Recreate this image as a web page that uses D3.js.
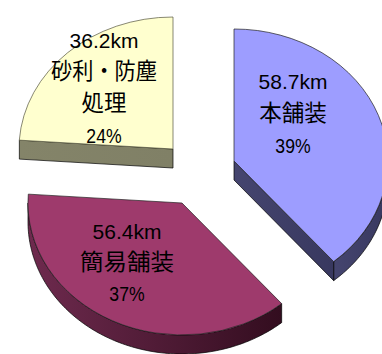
<!DOCTYPE html>
<html>
<head>
<meta charset="utf-8">
<script src="https://cdn.jsdelivr.net/npm/d3@7"></script>
<style>
  html, body { margin: 0; padding: 0; background: #fff; overflow: hidden; }
  text { fill: #000; text-anchor: middle; }
  .num, .pct { font-family: "Liberation Sans", sans-serif; font-size: 21px; }
  .cjk { font-family: "Noto Sans CJK JP", sans-serif; font-size: 22.5px; }
</style>
</head>
<body>
<svg id="chart" width="382" height="354"></svg>
<script>
// Road surface lengths by surface type
const lengthsKm = [58.7, 56.4, 36.2];
const labelLines = [
  ["58.7km", "本舗装", "39%"],
  ["56.4km", "簡易舗装", "37%"],
  ["36.2km", "砂利・防塵", "処理", "24%"]
];
const topColors = ["#9d9dff", "#9e3a6c", "#ffffcf"];

// Projection of the tilted pie and the offset of each pulled-out slice
const rx = 154, ry = 132, depth = 19;
const centers = [[234, 161], [182, 203], [173, 149]];

// Label placement: centre x and the baseline of every line
const labelX = [293, 127, 104];
const labelBaselines = [[89, 121, 153], [239, 270, 301], [48, 79, 110.5, 143]];
// Lines set to a fixed run width, and the horizontal squeeze of the percent figures
const fittedWidth = { "砂利・防塵": 106, "簡易舗装": 94 };
const percentSqueeze = 0.84;

const svg = d3.select("#chart");
const defs = svg.append("defs");

const wallGradients = [
  ["wall0", "#45456f", "#38385f"],
  ["wall1", "#6e2a4e", "#330d1f"],
  ["wall2", "#848469", "#808066"]
];
wallGradients.forEach(([id, from, to]) => {
  const g = defs.append("linearGradient").attr("id", id);
  g.append("stop").attr("offset", 0).attr("stop-color", from);
  g.append("stop").attr("offset", 1).attr("stop-color", to);
});

const pie = d3.pie().sort(null).value(d => d);
const slices = pie(lengthsKm);

const px = a => rx * Math.sin(a);
const py = a => -ry * Math.cos(a);

const wall = d3.area()
  .x(a => px(a))
  .y0(a => py(a))
  .y1(a => py(a) + depth);

const topArc = d3.arc().innerRadius(0).outerRadius(1);

// Paint back to front: yellow, blue, then maroon
[2, 0, 1].forEach(i => {
  const s = slices[i];
  const g = svg.append("g").attr("transform", `translate(${centers[i]})`);

  // Outer rim, only where it faces the viewer
  const from = Math.max(s.startAngle, Math.PI / 2);
  const to = Math.min(s.endAngle, 3 * Math.PI / 2);
  if (from < to) {
    const steps = d3.range(from, to, 0.02).concat([to]);
    g.append("path")
      .attr("d", wall(steps))
      .attr("fill", `url(#wall${i})`)
      .attr("stroke", "#000")
      .attr("stroke-width", 0.7);
  }

  // Cut faces that look toward the viewer
  const faceAngle = i === 0 ? s.endAngle : i === 2 ? s.startAngle : null;
  if (faceAngle !== null) {
    const ex = px(faceAngle), ey = py(faceAngle);
    const face = [[0, 0], [ex, ey], [ex, ey + depth], [0, depth]];
    g.append("path")
      .attr("d", d3.line()(face) + "Z")
      .attr("fill", `url(#wall${i})`)
      .attr("stroke", "#000")
      .attr("stroke-width", 0.7);
  }

  // Top surface
  g.append("path")
    .attr("d", topArc(s))
    .attr("transform", `scale(${rx},${ry})`)
    .attr("fill", topColors[i])
    .attr("stroke", i === 2 ? "#55553f" : "#222")
    .attr("stroke-width", 0.7)
    .style("vector-effect", "non-scaling-stroke");
});

// Data labels
labelLines.forEach((lines, i) => {
  lines.forEach((t, k) => {
    const kind = /%$/.test(t) ? "pct" : /^[0-9]/.test(t) ? "num" : "cjk";
    const squeeze = kind === "pct" ? percentSqueeze : 1;
    const label = svg.append("text")
      .attr("class", kind)
      .attr("transform", `translate(${labelX[i]},${labelBaselines[i][k]}) scale(${squeeze},1)`)
      .text(t);
    if (fittedWidth[t]) {
      label.attr("textLength", fittedWidth[t]).attr("lengthAdjust", "spacingAndGlyphs");
    }
  });
});
</script>
</body>
</html>
